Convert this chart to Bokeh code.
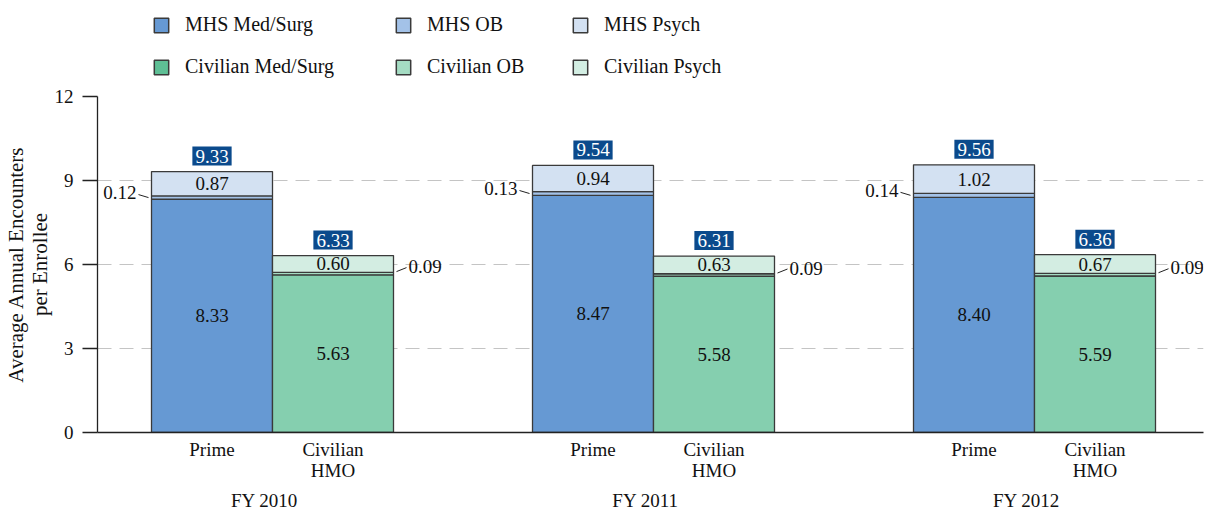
from bokeh.plotting import figure
from bokeh.layouts import column
from bokeh.models import (ColumnDataSource, LabelSet, Label, Legend, LegendItem,
                          FixedTicker, Range1d, LinearAxis, CustomJSTickFormatter)
from bokeh.embed import file_html
from bokeh.resources import INLINE

# ---------------- data ----------------
years = ["FY 2010", "FY 2011", "FY 2012"]
plans = ["Prime", "Civilian\nHMO"]
mhs_medsurg = [8.33, 8.47, 8.40]
mhs_ob = [0.12, 0.13, 0.14]
mhs_psych = [0.87, 0.94, 1.02]
mhs_total = [9.33, 9.54, 9.56]
civ_medsurg = [5.63, 5.58, 5.59]
civ_ob = [0.09, 0.09, 0.09]
civ_psych = [0.60, 0.63, 0.67]
civ_total = [6.33, 6.31, 6.36]
y_ticks = [0, 3, 6, 9, 12]
series_names = ["MHS Med/Surg", "MHS OB", "MHS Psych",
                "Civilian Med/Surg", "Civilian OB", "Civilian Psych"]
y_title = "Average Annual Encounters\nper Enrollee"

# ---------------- style / layout ----------------
FONT = "Liberation Serif"
FS = "19px"
W = 1205
LEG_H = 84
MAIN_H = 513 - LEG_H
FRAME_L = 97
GPX = 381.0               # px between group centres
PX = 1.0 / GPX            # x data units per px
PY = 12.0 / 336.0         # y data units per px
BW = 121.0 / GPX          # bar width
EDGE = "#3a3a3a"
NAVY = "#0b4a8c"
TXT = "#111111"
mhs_bar_colors = ["#6699d3", "#a3c2e8", "#d3e1f2"]
civ_bar_colors = ["#85cfaf", "#a5dcc3", "#d3ede2"]
legend_colors = ["#6699d3", "#a3c2e8", "#d3e1f2", "#5ebf95", "#a5dcc3", "#d3eee3"]

p = figure(width=W, height=MAIN_H, output_backend="svg", toolbar_location=None,
           x_range=Range1d(-175.0 / GPX, 931.0 / GPX), y_range=Range1d(0, 12),
           min_border_left=FRAME_L, min_border_right=2, min_border_top=12,
           min_border_bottom=81)
p.outline_line_color = None
p.background_fill_color = "white"
p.border_fill_color = "white"

# y axis
p.yaxis.ticker = FixedTicker(ticks=y_ticks)
p.yaxis.major_tick_out = 15
p.yaxis.major_tick_in = 0
p.yaxis.minor_tick_line_color = None
p.yaxis.axis_line_color = "#222222"
p.yaxis.axis_line_width = 1.3
p.yaxis.major_tick_line_color = "#222222"
p.yaxis.major_tick_line_width = 1.3
p.yaxis.major_label_standoff = 9
p.yaxis.major_label_text_font = FONT
p.yaxis.major_label_text_font_size = FS
p.yaxis.major_label_text_color = TXT
p.yaxis.axis_label = y_title
p.yaxis.axis_label_text_font = FONT
p.yaxis.axis_label_text_font_size = "21px"
p.yaxis.axis_label_text_font_style = "normal"
p.yaxis.axis_label_text_color = TXT
p.yaxis.axis_label_standoff = 0
p.yaxis.axis_label_text_line_height = 1.0

# ---------------- bars ----------------
groups = list(range(len(years)))
x_mhs = [g - BW / 2 for g in groups]
x_civ = [g + BW / 2 for g in groups]

# x axis: plan labels under each bar
plan_ticks = []
plan_labels = []
for g in groups:
    plan_ticks += [x_mhs[g], x_civ[g]]
    plan_labels += plans
p.xaxis.ticker = FixedTicker(ticks=plan_ticks)
p.xaxis.formatter = CustomJSTickFormatter(args=dict(labels=plan_labels),
                                          code="return labels[index];")
p.xaxis.major_tick_out = 0
p.xaxis.major_tick_in = 0
p.xaxis.major_tick_line_color = None
p.xaxis.minor_tick_line_color = None
p.xaxis.axis_line_color = "#222222"
p.xaxis.axis_line_width = 1.3
p.xaxis.major_label_standoff = 6
p.xaxis.major_label_text_font = FONT
p.xaxis.major_label_text_font_size = FS
p.xaxis.major_label_text_color = TXT
p.xaxis.major_label_text_line_height = 1.0

# second x axis: fiscal years
yr_axis = LinearAxis(ticker=FixedTicker(ticks=[g - 8 * PX for g in groups]),
                     formatter=CustomJSTickFormatter(args=dict(labels=years),
                                                     code="return labels[index];"))
yr_axis.axis_line_color = None
yr_axis.major_tick_out = 0
yr_axis.major_tick_in = 0
yr_axis.major_tick_line_color = None
yr_axis.minor_tick_line_color = None
yr_axis.major_label_standoff = 6
yr_axis.major_label_text_font = FONT
yr_axis.major_label_text_font_size = FS
yr_axis.major_label_text_color = TXT
p.add_layout(yr_axis, "below")

p.xgrid.grid_line_color = None
p.ygrid.ticker = FixedTicker(ticks=y_ticks[1:])
p.ygrid.grid_line_color = "#c4c4c4"
p.ygrid.grid_line_dash = "14 8"
p.ygrid.grid_line_width = 1


def stack(xs, layers, colors):
    base = [0.0] * len(xs)
    for vals, col in zip(layers, colors):
        top = [b + v for b, v in zip(base, vals)]
        p.vbar(x=xs, bottom=base, top=top, width=BW, fill_color=col,
               line_color=EDGE, line_width=1.3)
        base = top
    return base


stack(x_mhs, [mhs_medsurg, mhs_ob, mhs_psych], mhs_bar_colors)
stack(x_civ, [civ_medsurg, civ_ob, civ_psych], civ_bar_colors)

# ---------------- value labels ----------------
xs_all = x_mhs + x_civ
ms_all = mhs_medsurg + civ_medsurg
ob_all = mhs_ob + civ_ob
ps_all = mhs_psych + civ_psych
tot_all = mhs_total + civ_total
tops = [m + o + s for m, o, s in zip(ms_all, ob_all, ps_all)]

inner = ColumnDataSource(dict(
    x=xs_all + xs_all,
    y=[m / 2 for m in ms_all] + [m + o + s / 2 for m, o, s in zip(ms_all, ob_all, ps_all)],
    t=["%.2f" % v for v in ms_all] + ["%.2f" % v for v in ps_all]))
p.add_layout(LabelSet(x="x", y="y", text="t", source=inner, text_align="center",
                      text_baseline="middle", text_font=FONT, text_font_size=FS,
                      text_color=TXT))

for x, t, v in zip(xs_all, tops, tot_all):
    p.add_layout(Label(x=x, y=t + 15.5 * PY, text="%.2f" % v, text_align="center",
                       text_baseline="middle", text_font=FONT, text_font_size=FS,
                       text_color="white", background_fill_color=NAVY, padding=3))

# OB labels with leader lines
ob_mid_m = [m + o / 2 for m, o in zip(mhs_medsurg, mhs_ob)]
ob_mid_c = [m + o / 2 for m, o in zip(civ_medsurg, civ_ob)]
left_m = [x - BW / 2 for x in x_mhs]
right_c = [x + BW / 2 for x in x_civ]

ob_m_src = ColumnDataSource(dict(x=[l - 15 * PX for l in left_m],
                                 y=[y + 5 * PY for y in ob_mid_m],
                                 t=["%.2f" % v for v in mhs_ob]))
p.add_layout(LabelSet(x="x", y="y", text="t", source=ob_m_src, text_align="right",
                      text_baseline="middle", text_font=FONT, text_font_size=FS,
                      text_color=TXT))
ob_c_src = ColumnDataSource(dict(x=[r + 15 * PX for r in right_c],
                                 y=[y + 7 * PY for y in ob_mid_c],
                                 t=["%.2f" % v for v in civ_ob]))
p.add_layout(LabelSet(x="x", y="y", text="t", source=ob_c_src, text_align="left",
                      text_baseline="middle", text_font=FONT, text_font_size=FS,
                      text_color=TXT))

p.segment(x0=[l - 13 * PX for l in left_m], y0=[y + 3 * PY for y in ob_mid_m],
          x1=[l - 3 * PX for l in left_m], y1=ob_mid_m, line_color="#222222", line_width=1)
p.segment(x0=[r + 3 * PX for r in right_c], y0=[y + 2 * PY for y in ob_mid_c],
          x1=[r + 13 * PX for r in right_c], y1=[y + 6 * PY for y in ob_mid_c],
          line_color="#222222", line_width=1)

# ---------------- legend figure (3 columns x 2 rows) ----------------
pl = figure(width=W, height=LEG_H, output_backend="svg", toolbar_location=None,
            x_range=Range1d(0, 1), y_range=Range1d(0, 1),
            x_axis_location=None, y_axis_location=None,
            min_border=0, min_border_left=0, min_border_right=0,
            min_border_top=0, min_border_bottom=0)
pl.outline_line_color = None
pl.grid.visible = False
pl.background_fill_color = "white"
pl.border_fill_color = "white"

items = []
for name, col in zip(series_names, legend_colors):
    # NaN position: nothing is drawn in the plot, only the legend swatch
    r = pl.vbar(x=[float("nan")], top=[float("nan")], width=0.1, fill_color=col,
                line_color=EDGE, line_width=1.5)
    items.append(LegendItem(label=name, renderers=[r]))

col_x = [152 - FRAME_L, 394 - FRAME_L, 571 - FRAME_L]
for ci in range(3):
    lg = Legend(items=[items[ci], items[ci + 3]], location=(col_x[ci], LEG_H - 78),
                orientation="vertical", padding=0, margin=0, spacing=19,
                glyph_width=18, glyph_height=18, label_height=22,
                label_standoff=15, label_text_font=FONT, label_text_font_size="20px",
                label_text_color=TXT, border_line_color=None,
                background_fill_alpha=0)
    pl.add_layout(lg, "center")

layout = column(pl, p, spacing=0)
open("out.html", "w").write(file_html(layout, INLINE))
